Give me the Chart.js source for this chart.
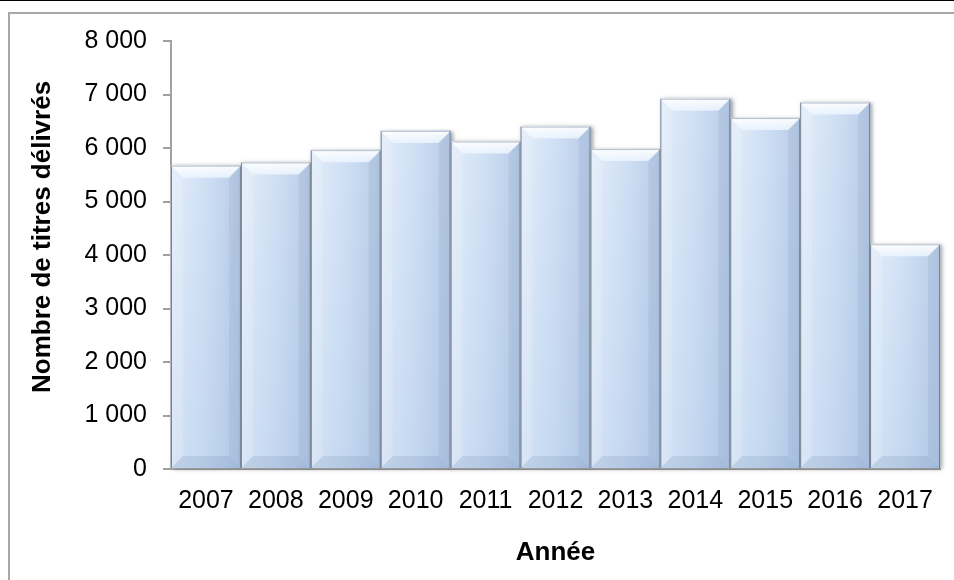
<!DOCTYPE html>
<html>
<head>
<meta charset="utf-8">
<script src="https://cdn.jsdelivr.net/npm/chart.js@4/dist/chart.umd.min.js"></script>
<style>
  html, body { margin: 0; padding: 0; background: #fff; }
  body { width: 954px; height: 580px; position: relative; overflow: hidden; border-top: 1px solid #000; box-sizing: border-box; }
  #frame { position: absolute; left: 8px; top: 11px; width: 1000px; height: 700px; border-left: 2px solid #a8a8a8; border-top: 2px solid #a8a8a8; }
  #wrap { position: absolute; left: 0; top: -1px; width: 954px; height: 580px; }
</style>
</head>
<body>
<div id="frame"></div>
<div id="wrap"><canvas id="chart-titres"></canvas></div>
<script>
const years = ["2007", "2008", "2009", "2010", "2011", "2012", "2013", "2014", "2015", "2016", "2017"];
const titres = [5670, 5730, 5960, 6320, 6120, 6400, 5980, 6920, 6560, 6850, 4200];
const yTicks = [0, 1000, 2000, 3000, 4000, 5000, 6000, 7000, 8000];

const fmt = v => String(v).replace(/\B(?=(\d{3})+(?!\d))/g, " ");

// bevel look drawn on top of each bar element
const bevel = {
    id: "bevel",
    beforeDatasetDraw(chart) {
        const ctx = chart.ctx;
        ctx.save();
        ctx.shadowColor = "rgba(60,60,60,0.5)";
        ctx.shadowBlur = 4;
        ctx.shadowOffsetX = 2;
        ctx.shadowOffsetY = 1;
    },
    afterDatasetDraw(chart) {
        chart.ctx.restore();
    },
    afterDatasetsDraw(chart) {
        const ctx = chart.ctx;
        const b = 12;
        chart.getDatasetMeta(0).data.forEach(bar => {
            const l = bar.x - bar.width / 2, r = bar.x + bar.width / 2;
            const t = bar.y, bt = bar.base;
            ctx.save();
            // a bit more blue towards the bottom
            let v = ctx.createLinearGradient(0, t, 0, bt);
            v.addColorStop(0, "rgba(120,160,215,0)");
            v.addColorStop(1, "rgba(120,160,215,0.14)");
            ctx.fillStyle = v;
            ctx.fillRect(l, t, r - l, bt - t);
            // top face
            let g = ctx.createLinearGradient(0, t, 0, t + b);
            g.addColorStop(0, "rgba(255,255,255,0.95)");
            g.addColorStop(1, "rgba(238,246,255,0.8)");
            ctx.fillStyle = g;
            ctx.beginPath();
            ctx.moveTo(l, t); ctx.lineTo(r, t); ctx.lineTo(r - b, t + b); ctx.lineTo(l + b, t + b); ctx.closePath();
            ctx.fill();
            // left face
            ctx.fillStyle = "rgba(255,255,255,0.15)";
            ctx.beginPath();
            ctx.moveTo(l, t); ctx.lineTo(l + b, t + b); ctx.lineTo(l + b, bt - b); ctx.lineTo(l, bt); ctx.closePath();
            ctx.fill();
            // right face
            ctx.fillStyle = "rgba(70,95,130,0.08)";
            ctx.beginPath();
            ctx.moveTo(r, t); ctx.lineTo(r - b, t + b); ctx.lineTo(r - b, bt - b); ctx.lineTo(r, bt); ctx.closePath();
            ctx.fill();
            // bottom face
            ctx.fillStyle = "rgba(70,100,140,0.13)";
            ctx.beginPath();
            ctx.moveTo(l, bt); ctx.lineTo(l + b, bt - b); ctx.lineTo(r - b, bt - b); ctx.lineTo(r, bt); ctx.closePath();
            ctx.fill();
            // edges
            ctx.lineWidth = 1;
            ctx.strokeStyle = "rgba(110,120,135,0.9)";
            ctx.beginPath();
            ctx.moveTo(l + 0.5, bt); ctx.lineTo(l + 0.5, t);
            ctx.moveTo(r - 0.5, t); ctx.lineTo(r - 0.5, bt);
            ctx.stroke();
            ctx.strokeStyle = "rgba(175,185,200,0.9)";
            ctx.beginPath();
            ctx.moveTo(l, t + 0.5); ctx.lineTo(r, t + 0.5);
            ctx.stroke();
            ctx.restore();
        });
    }
};

const chartObj = document.getElementById("chart-titres");
const font = "'Liberation Sans', Arial";
const config = {
    type: "bar",
    data: {
        labels: years,
        datasets: [{
            label: "Nombre de titres délivrés",
            data: titres,
            categoryPercentage: 1,
            barPercentage: 1,
            borderWidth: 0,
            clip: false,
            backgroundColor: function (c) {
                const xs = c.chart.scales.x;
                if (!xs || !isFinite(xs.left)) return "#c9dbf1";
                const w = xs.width / years.length;
                const mid = xs.getPixelForValue(c.dataIndex);
                const g = c.chart.ctx.createLinearGradient(mid - w / 2, 0, mid + w / 2, 0);
                g.addColorStop(0, "#e2edfa");
                g.addColorStop(0.5, "#d0e0f4");
                g.addColorStop(1, "#b8cce8");
                return g;
            }
        }]
    },
    options: {
        responsive: false,
        animation: false,
        layout: { padding: { top: 41, right: 14, bottom: 0, left: 0 } },
        plugins: {
            legend: { display: false },
            tooltip: { enabled: false }
        },
        scales: {
            x: {
                grid: { display: false },
                border: { display: true, color: "#a0a0a0", width: 2 },
                ticks: {
                    color: "#000",
                    padding: 9,
                    maxRotation: 0,
                    autoSkip: false,
                    font: { family: font, size: 25 }
                },
                title: {
                    display: true,
                    text: "Année",
                    color: "#000",
                    padding: { top: 0, bottom: 12 },
                    font: { family: font, size: 26, weight: "bold" }
                },
                afterFit: s => { s.height = 111; }
            },
            y: {
                min: 0,
                max: 8000,
                afterBuildTicks: s => { s.ticks = yTicks.map(v => ({ value: v })); },
                grid: { drawOnChartArea: false, drawTicks: true, tickLength: 8, color: "#a0a0a0", lineWidth: 2 },
                border: { display: true, color: "#a0a0a0", width: 2 },
                ticks: {
                    color: "#000",
                    padding: 16,
                    callback: v => fmt(v),
                    font: { family: font, size: 25 }
                },
                title: {
                    display: true,
                    text: "     Nombre de titres délivrés",
                    color: "#000",
                    padding: { top: 27, bottom: 0 },
                    font: { family: font, size: 26, weight: "bold" }
                },
                afterFit: s => { s.width = 171; }
            }
        }
    },
    plugins: [bevel]
};

chartObj.width = 954;
chartObj.height = 580;
new Chart(chartObj, config);
</script>
</body>
</html>
